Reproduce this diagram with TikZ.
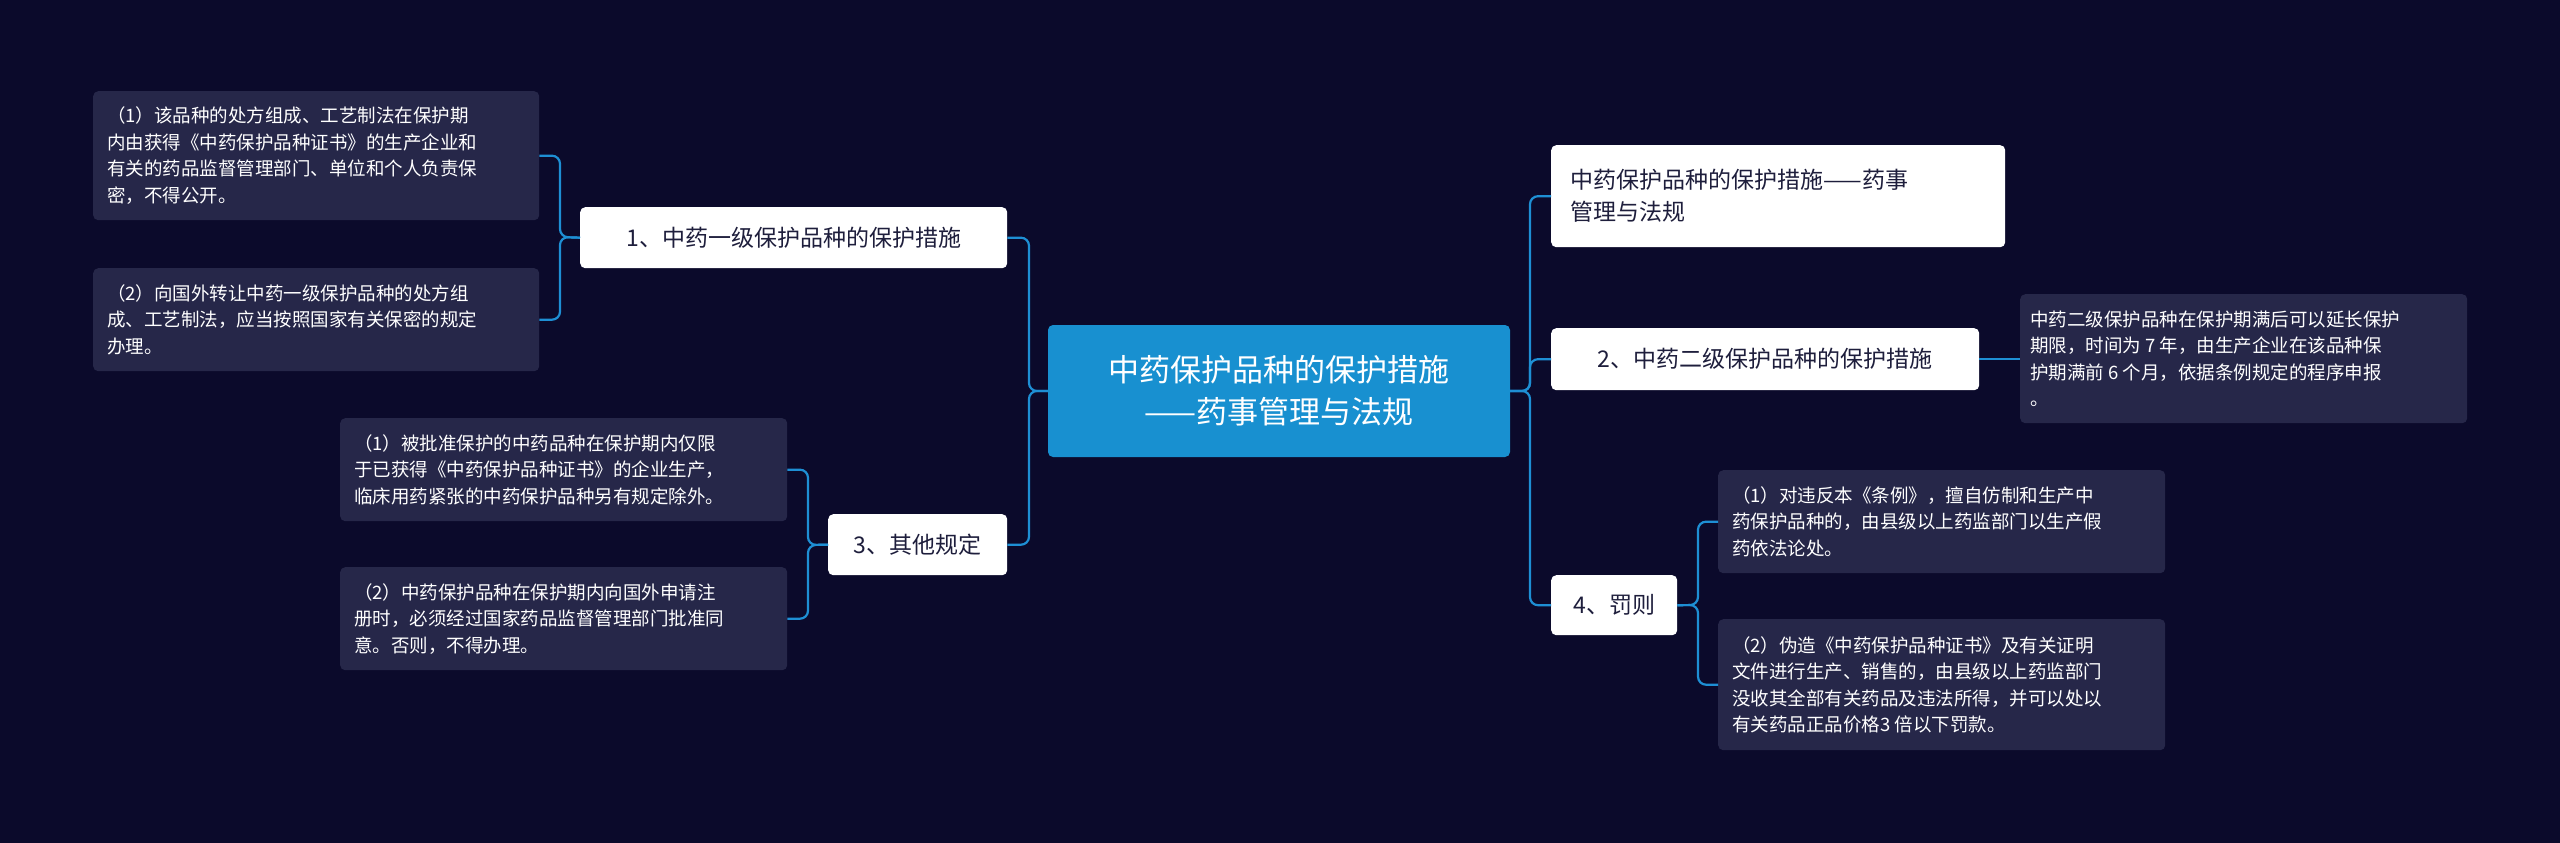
\documentclass[tikz,border=0pt]{standalone}
\usepackage{fontspec}
\setmainfont{Noto Sans CJK SC}
\definecolor{bg}{HTML}{0B0A2B}
\definecolor{mainc}{HTML}{1890D0}
\definecolor{leafc}{HTML}{262749}
\definecolor{linec}{HTML}{1E8FD4}
\definecolor{dtext}{HTML}{1E1E3C}
\begin{document}
\begin{tikzpicture}[x=1pt,y=-1pt,
  conn/.style={draw=linec,line width=2.2pt,rounded corners=8pt},
  midbox/.style={fill=white,rounded corners=5pt,text=dtext,font=\fontsize{23}{30}\selectfont,inner sep=0pt,anchor=north west,align=left},
  leaf/.style={fill=leafc,rounded corners=5pt,text=white,font=\fontsize{18.5}{26.5}\selectfont,inner sep=0pt,anchor=north west,align=left}]
\fill[bg] (0,0) rectangle (2560,843);
\useasboundingbox (0,0) rectangle (2560,843);
% center
\node[fill=mainc,rounded corners=5pt,text=white,font=\fontsize{31}{42}\selectfont,align=center,minimum width=462pt,minimum height=132pt,inner sep=0pt] (c) at (1279,391) {中药保护品种的保护措施\\——药事管理与法规};
% left
\node[midbox,minimum width=427pt,minimum height=61pt] (l1) at (580,207) {};
\node[text=dtext,font=\fontsize{23}{30}\selectfont] at (l1.center) {1、中药一级保护品种的保护措施};
\node[midbox,minimum width=179pt,minimum height=61pt] (l3) at (828,514) {};
\node[text=dtext,font=\fontsize{23}{30}\selectfont] at (l3.center) {3、其他规定};
\node[leaf,minimum width=446pt,minimum height=129pt] (a1) at (93,91) {};
\node[leaf,anchor=west] at ([xshift=14pt]a1.west) {（1）该品种的处方组成、工艺制法在保护期\\内由获得《中药保护品种证书》的生产企业和\\有关的药品监督管理部门、单位和个人负责保\\密，不得公开。};
\node[leaf,minimum width=446pt,minimum height=103pt] (a2) at (93,268) {};
\node[leaf,anchor=west] at ([xshift=14pt]a2.west) {（2）向国外转让中药一级保护品种的处方组\\成、工艺制法，应当按照国家有关保密的规定\\办理。};
\node[leaf,minimum width=447pt,minimum height=103pt] (b1) at (340,418) {};
\node[leaf,anchor=west] at ([xshift=14pt]b1.west) {（1）被批准保护的中药品种在保护期内仅限\\于已获得《中药保护品种证书》的企业生产，\\临床用药紧张的中药保护品种另有规定除外。};
\node[leaf,minimum width=447pt,minimum height=103pt] (b2) at (340,567) {};
\node[leaf,anchor=west] at ([xshift=14pt]b2.west) {（2）中药保护品种在保护期内向国外申请注\\册时，必须经过国家药品监督管理部门批准同\\意。否则，不得办理。};
% right
\node[midbox,minimum width=454pt,minimum height=102pt] (r1) at (1551,145) {};
\node[text=dtext,font=\fontsize{23}{32}\selectfont,align=left,anchor=west] at ([xshift=16pt]r1.west) {中药保护品种的保护措施——药事\\管理与法规};
\node[midbox,minimum width=428pt,minimum height=62pt] (r2) at (1551,328) {};
\node[text=dtext,font=\fontsize{23}{30}\selectfont] at (r2.center) {2、中药二级保护品种的保护措施};
\node[midbox,minimum width=126pt,minimum height=60pt] (r4) at (1551,575) {};
\node[text=dtext,font=\fontsize{23}{30}\selectfont] at (r4.center) {4、罚则};
\node[leaf,minimum width=447pt,minimum height=129pt] (d1) at (2020,294) {};
\node[leaf,anchor=west] at ([xshift=10pt]d1.west) {中药二级保护品种在保护期满后可以延长保护\\期限，时间为 7 年，由生产企业在该品种保\\护期满前 6 个月，依据条例规定的程序申报\\。};
\node[leaf,minimum width=447pt,minimum height=103pt] (e1) at (1718,470) {};
\node[leaf,anchor=west] at ([xshift=14pt]e1.west) {（1）对违反本《条例》，擅自仿制和生产中\\药保护品种的，由县级以上药监部门以生产假\\药依法论处。};
\node[leaf,minimum width=447pt,minimum height=131pt] (e2) at (1718,619) {};
\node[leaf,anchor=west] at ([xshift=14pt]e2.west) {（2）伪造《中药保护品种证书》及有关证明\\文件进行生产、销售的，由县级以上药监部门\\没收其全部有关药品及违法所得，并可以处以\\有关药品正品价格3 倍以下罚款。};
% connectors
\coordinate (tl) at (1029,391);
\coordinate (tr) at (1530,391);
\draw[conn] (c.west) -- (tl) |- (l1.east);
\draw[conn] (c.west) -- (tl) |- (l3.east);
\draw[conn] (c.east) -- (tr) |- (r1.west);
\draw[conn] (c.east) -- (tr) |- (r2.west);
\draw[conn] (c.east) -- (tr) |- (r4.west);
\coordinate (t1) at (560,237);
\draw[conn] (l1.west) -- (t1) |- (a1.east);
\draw[conn] (l1.west) -- (t1) |- (a2.east);
\coordinate (t3) at (808,545);
\draw[conn] (l3.west) -- (t3) |- (b1.east);
\draw[conn] (l3.west) -- (t3) |- (b2.east);
\draw[conn] (r2.east) -- (d1.west|-r2.east);
\coordinate (t4) at (1698,605);
\draw[conn] (r4.east) -- (t4) |- (e1.west);
\draw[conn] (r4.east) -- (t4) |- (e2.west);
\end{tikzpicture}
\end{document}
